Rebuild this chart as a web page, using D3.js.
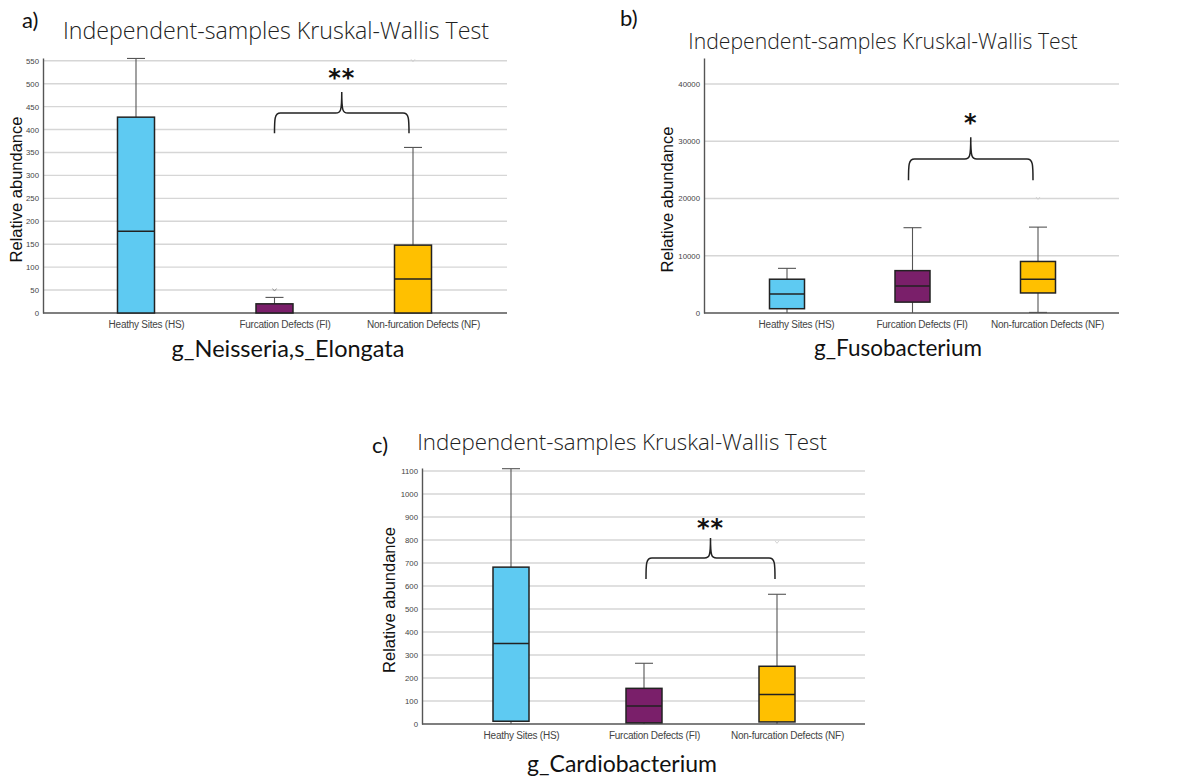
<!DOCTYPE html>
<html>
<head>
<meta charset="utf-8">
<script src="https://cdn.jsdelivr.net/npm/d3@7"></script>
<style>
  body { margin: 0; background: #fff; }
  svg text { font-family: "Liberation Sans", Arial, sans-serif; }
  .title { font-family: "Open Sans", "Noto Sans", sans-serif; font-weight: 300; fill: #222; }
  .genus, .letter { font-family: Lato, "Noto Sans", sans-serif; fill: #111; }
  .tick-label { fill: #444; font-size: 7.8px; }
  .group-label { fill: #444; font-size: 10px; letter-spacing: -0.25px; }
  .ylab { fill: #111; font-size: 16.5px; }
  .grid line { stroke: #d6d6d6; stroke-width: 1.4; }
</style>
</head>
<body>
<svg id="chart" width="1192" height="783"></svg>
<script>
// groups shared by the three panels
var groups = ["Heathy Sites (HS)", "Furcation Defects (FI)", "Non-furcation Defects (NF)"];
var boxColors = ["#5ecaf2", "#7a1f6a", "#ffc000"];

// five number summaries [min, q1, median, q3, max]
var neisseriaBoxes = [[0, 0, 178, 427, 555], [0, 0, 0, 20, 34], [0, 0, 74, 148, 361]];
var neisseriaOutliers = [[], [50], [550]];
var neisseriaTicks = [0, 50, 100, 150, 200, 250, 300, 350, 400, 450, 500, 550];
var neisseriaBracket = [392, 436, 482];

var fusoBoxes = [[0, 750, 3300, 5900, 7800], [0, 1900, 4700, 7400, 14900], [100, 3500, 5900, 9000, 15000]];
var fusoOutliers = [[], [], [20000]];
var fusoTicks = [0, 10000, 20000, 30000, 40000];
var fusoBracket = [23200, 26900, 30700];

var cardioBoxes = [[0, 12, 350, 682, 1110], [0, 5, 78, 155, 264], [0, 9, 128, 251, 564]];
var cardioOutliers = [[], [], [790]];
var cardioTicks = [0, 100, 200, 300, 400, 500, 600, 700, 800, 900, 1000, 1100];
var cardioBracket = [630, 722, 809];

var svg = d3.select("#chart");

function drawPanel(p) {
    var g = svg.append("g");

    var yScale = d3.scaleLinear()
        .domain([0, p.yMax])
        .range([p.bottom, p.top]);

    var xScale = d3.scalePoint()
        .domain(groups)
        .range(p.centers);

    // gridlines
    g.append("g")
        .classed("grid", true)
        .selectAll("line")
        .data(p.ticks.filter(d => d > 0))
        .enter()
        .append("line")
        .attr("x1", p.left)
        .attr("x2", p.right)
        .attr("y1", d => yScale(d))
        .attr("y2", d => yScale(d));

    // y axis
    g.append("g")
        .attr("transform", "translate(" + p.left + ",0)")
        .call(d3.axisLeft(yScale).tickValues(p.ticks).tickSize(0).tickPadding(4).tickFormat(d3.format("d")))
        .call(a => a.select(".domain").attr("stroke", "#555").attr("stroke-width", 1.4))
        .call(a => a.selectAll("text").attr("class", "tick-label").attr("font-family", null).attr("font-size", null).attr("fill", null));

    // x axis
    g.append("g")
        .attr("transform", "translate(0," + p.bottom + ")")
        .call(d3.axisBottom(xScale).tickSize(0).tickPadding(8).tickSizeOuter(0))
        .call(a => a.select(".domain").attr("d", "M" + p.left + ",0H" + p.right).attr("stroke", "#555").attr("stroke-width", 1.4))
        .call(a => a.selectAll("text").attr("class", "group-label").attr("font-family", null).attr("font-size", null).attr("fill", null)
            .attr("dx", p.labelShift));

    var boxes = g.append("g")
        .selectAll("g")
        .data(p.boxes)
        .enter()
        .append("g")
        .attr("transform", (d, i) => "translate(" + xScale(groups[i]) + ",0)");

    var hw = p.boxWidth / 2;
    var cap = 9;

    // whiskers
    boxes.append("line")
        .attr("x1", 0).attr("x2", 0)
        .attr("y1", d => yScale(d[3])).attr("y2", d => yScale(d[4]))
        .attr("stroke", "#555").attr("stroke-width", 1.1);
    boxes.append("line")
        .attr("x1", -cap).attr("x2", cap)
        .attr("y1", d => yScale(d[4])).attr("y2", d => yScale(d[4]))
        .attr("stroke", "#555").attr("stroke-width", 1.1);
    boxes.filter(d => d[1] > d[0])
        .append("line")
        .attr("x1", 0).attr("x2", 0)
        .attr("y1", d => yScale(d[1])).attr("y2", d => yScale(d[0]))
        .attr("stroke", "#555").attr("stroke-width", 1.1);
    boxes.filter(d => d[0] > 0)
        .append("line")
        .attr("x1", -cap).attr("x2", cap)
        .attr("y1", d => yScale(d[0])).attr("y2", d => yScale(d[0]))
        .attr("stroke", "#555").attr("stroke-width", 1.1);

    // box + median
    boxes.append("rect")
        .attr("x", -hw)
        .attr("width", p.boxWidth)
        .attr("y", d => yScale(d[3]))
        .attr("height", d => yScale(d[1]) - yScale(d[3]))
        .attr("fill", (d, i) => boxColors[i])
        .attr("stroke", "#222")
        .attr("stroke-width", 1.5);
    boxes.filter(d => d[2] > d[1])
        .append("line")
        .attr("x1", -hw).attr("x2", hw)
        .attr("y1", d => yScale(d[2])).attr("y2", d => yScale(d[2]))
        .attr("stroke", "#222").attr("stroke-width", 1.5);

    // faint outlier marks
    p.outliers.forEach((vals, i) => {
        vals.forEach(v => {
            g.append("path")
                .attr("d", "M" + (xScale(groups[i]) - 2) + "," + (yScale(v) - 1.5) + "l2,2.5l2,-2.5")
                .attr("fill", "none")
                .attr("stroke", i == 1 ? "#777" : "#ccc")
                .attr("stroke-width", 0.8);
        });
    });

    // curly bracket between FI and NF
    var xl = xScale(groups[1]) + p.bracketInset[0];
    var xr = xScale(groups[2]) + p.bracketInset[1];
    var xm = (xl + xr) / 2;
    var yb = yScale(p.bracket[0]), yh = yScale(p.bracket[1]), yp = yScale(p.bracket[2]);
    var r = 6;
    var path = d3.path();
    path.moveTo(xl, yb);
    path.bezierCurveTo(xl, yh + r, xl, yh, xl + r, yh);
    path.lineTo(xm - r, yh);
    path.bezierCurveTo(xm - 1, yh, xm, yh - 2, xm, yp);
    path.bezierCurveTo(xm, yh - 2, xm + 1, yh, xm + r, yh);
    path.lineTo(xr - r, yh);
    path.bezierCurveTo(xr, yh, xr, yh + r, xr, yb);
    g.append("path")
        .attr("d", path.toString())
        .attr("fill", "none")
        .attr("stroke", "#222")
        .attr("stroke-width", 1.5);

    g.append("text")
        .attr("x", xm)
        .attr("y", yp - p.starGap)
        .attr("text-anchor", "middle")
        .style("font-family", "'DejaVu Sans', sans-serif")
        .style("font-size", "24px")
        .style("font-weight", "bold")
        .style("letter-spacing", "1px")
        .attr("fill", "#111")
        .text(p.stars);

    // texts
    g.append("text")
        .classed("title", true)
        .attr("x", p.titleX)
        .attr("y", p.titleY)
        .attr("text-anchor", "middle")
        .style("font-size", p.titleSize + "px")
        .text("Independent-samples Kruskal-Wallis Test");

    g.append("text")
        .classed("letter", true)
        .attr("x", p.letterX)
        .attr("y", p.letterY)
        .style("font-size", "22px")
        .text(p.letter);

    g.append("text")
        .classed("genus", true)
        .attr("x", p.genusX)
        .attr("y", p.genusY)
        .attr("text-anchor", "middle")
        .style("font-size", p.genusSize + "px")
        .text(p.genus);

    g.append("text")
        .classed("ylab", true)
        .attr("transform", "translate(" + p.ylabX + "," + ((p.top + p.bottom) / 2 + p.ylabShift) + ") rotate(-90)")
        .attr("text-anchor", "middle")
        .text("Relative abundance");
}

drawPanel({
    letter: "a)", letterX: 22, letterY: 28,
    left: 43, right: 507, top: 58, bottom: 313, yMax: 556,
    centers: [136, 413], boxWidth: 37, labelShift: 10,
    boxes: neisseriaBoxes, outliers: neisseriaOutliers, ticks: neisseriaTicks,
    bracket: neisseriaBracket, bracketInset: [0, -4], stars: "**", starGap: 6,
    titleX: 276, titleY: 39, titleSize: 23.2,
    genus: "g_Neisseria,s_Elongata", genusX: 288, genusY: 357, genusSize: 23.5,
    ylabX: 22, ylabShift: 4
});

drawPanel({
    letter: "b)", letterX: 620, letterY: 26,
    left: 704, right: 1119, top: 58, bottom: 313, yMax: 44540,
    centers: [787, 1038], boxWidth: 35, labelShift: 9,
    boxes: fusoBoxes, outliers: fusoOutliers, ticks: fusoTicks,
    bracket: fusoBracket, bracketInset: [-4, -5], stars: "*", starGap: 6,
    titleX: 883, titleY: 49, titleSize: 21.2,
    genus: "g_Fusobacterium", genusX: 898, genusY: 356, genusSize: 22.5,
    ylabX: 673, ylabShift: 14
});

drawPanel({
    letter: "c)", letterX: 372, letterY: 453,
    left: 422, right: 865, top: 468, bottom: 724, yMax: 1113,
    centers: [511, 777], boxWidth: 36, labelShift: 10,
    boxes: cardioBoxes, outliers: cardioOutliers, ticks: cardioTicks,
    bracket: cardioBracket, bracketInset: [2, -2], stars: "**", starGap: 2,
    titleX: 622, titleY: 450, titleSize: 22.3,
    genus: "g_Cardiobacterium", genusX: 622, genusY: 772, genusSize: 23,
    ylabX: 395, ylabShift: 4
});
</script>
</body>
</html>
